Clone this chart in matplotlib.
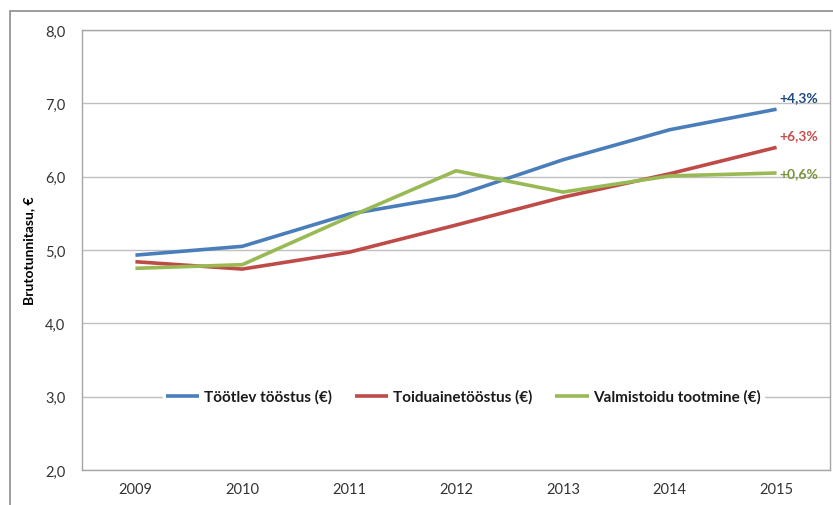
import matplotlib
matplotlib.use("Agg")
import matplotlib.pyplot as plt
from matplotlib.patches import Rectangle
from matplotlib.ticker import FuncFormatter

years = ["2009", "2010", "2011", "2012", "2013", "2014", "2015"]
tootlev = [4.93, 5.05, 5.49, 5.74, 6.23, 6.64, 6.92]
toiduaine = [4.84, 4.74, 4.97, 5.34, 5.72, 6.04, 6.40]
valmistoidu = [4.75, 4.80, 5.45, 6.08, 5.79, 6.01, 6.05]
series_names = ["Töötlev tööstus (€)", "Toiduainetööstus (€)", "Valmistoidu tootmine (€)"]
change_labels = ["+4,3%", "+6,3%", "+0,6%"]

plt.rcParams['font.family'] = ['Lato', 'DejaVu Sans']

fig = plt.figure(figsize=(8.33, 5.06), dpi=100)
fig.patch.set_facecolor('white')
# outer chart border
fig.patches.append(Rectangle((10/833, -0.05), 1.0, (506-12)/506 + 0.05,
                             transform=fig.transFigure, fill=False,
                             edgecolor='#8c8c8c', linewidth=1.2))

ax = fig.add_axes([82/833, 35/506, 748/833, 440/506])
x = list(range(len(years)))
line_colors = ['#4A7EBB', '#BE4B48', '#98B954']
label_colors = ['#1F497D', '#C0504D', '#77933C']
data = [tootlev, toiduaine, valmistoidu]
for vals, c, name in zip(data, line_colors, series_names):
    ax.plot(x, vals, color=c, linewidth=2.6, label=name, solid_capstyle='butt')

label_offsets = [0.09, 0.09, 0.0]
for vals, c, lab, off in zip(data, label_colors, change_labels, label_offsets):
    ax.text(x[-1] + 0.03, vals[-1] + off, lab, color=c, fontsize=10,
            fontweight='bold', ha='left', va='bottom' if off else 'center')

ax.set_xlim(-0.5, 6.5)
ax.set_ylim(2.0, 8.0)
ax.set_xticks(x)
ax.set_xticklabels(years)
ax.set_yticks([2, 3, 4, 5, 6, 7, 8])
ax.yaxis.set_major_formatter(FuncFormatter(lambda v, p: f"{v:.1f}".replace('.', ',')))
ax.tick_params(axis='both', length=0, labelsize=10.5, colors='#333333', pad=9)
ax.tick_params(axis='y', pad=12)
ax.grid(axis='y', color='#bfbfbf', linewidth=1.0)
ax.set_axisbelow(True)
for s in ax.spines.values():
    s.set_color('#a6a6a6')
    s.set_linewidth(1.0)

ax.set_ylabel("Brutotunnitasu, €", fontsize=10, fontweight='bold', color='black', labelpad=7)

leg = ax.legend(loc='center', bbox_to_anchor=(0.51, (3.0 - 2.0) / 6.0), ncol=3,
                frameon=True, fancybox=False, framealpha=1.0, edgecolor='white',
                fontsize=11, handlelength=2.2, handletextpad=0.3, columnspacing=1.5,
                borderpad=0.2)
for t in leg.get_texts():
    t.set_fontweight('bold')
    t.set_color('#1a1a1a')

fig.savefig("out.png", dpi=100)
